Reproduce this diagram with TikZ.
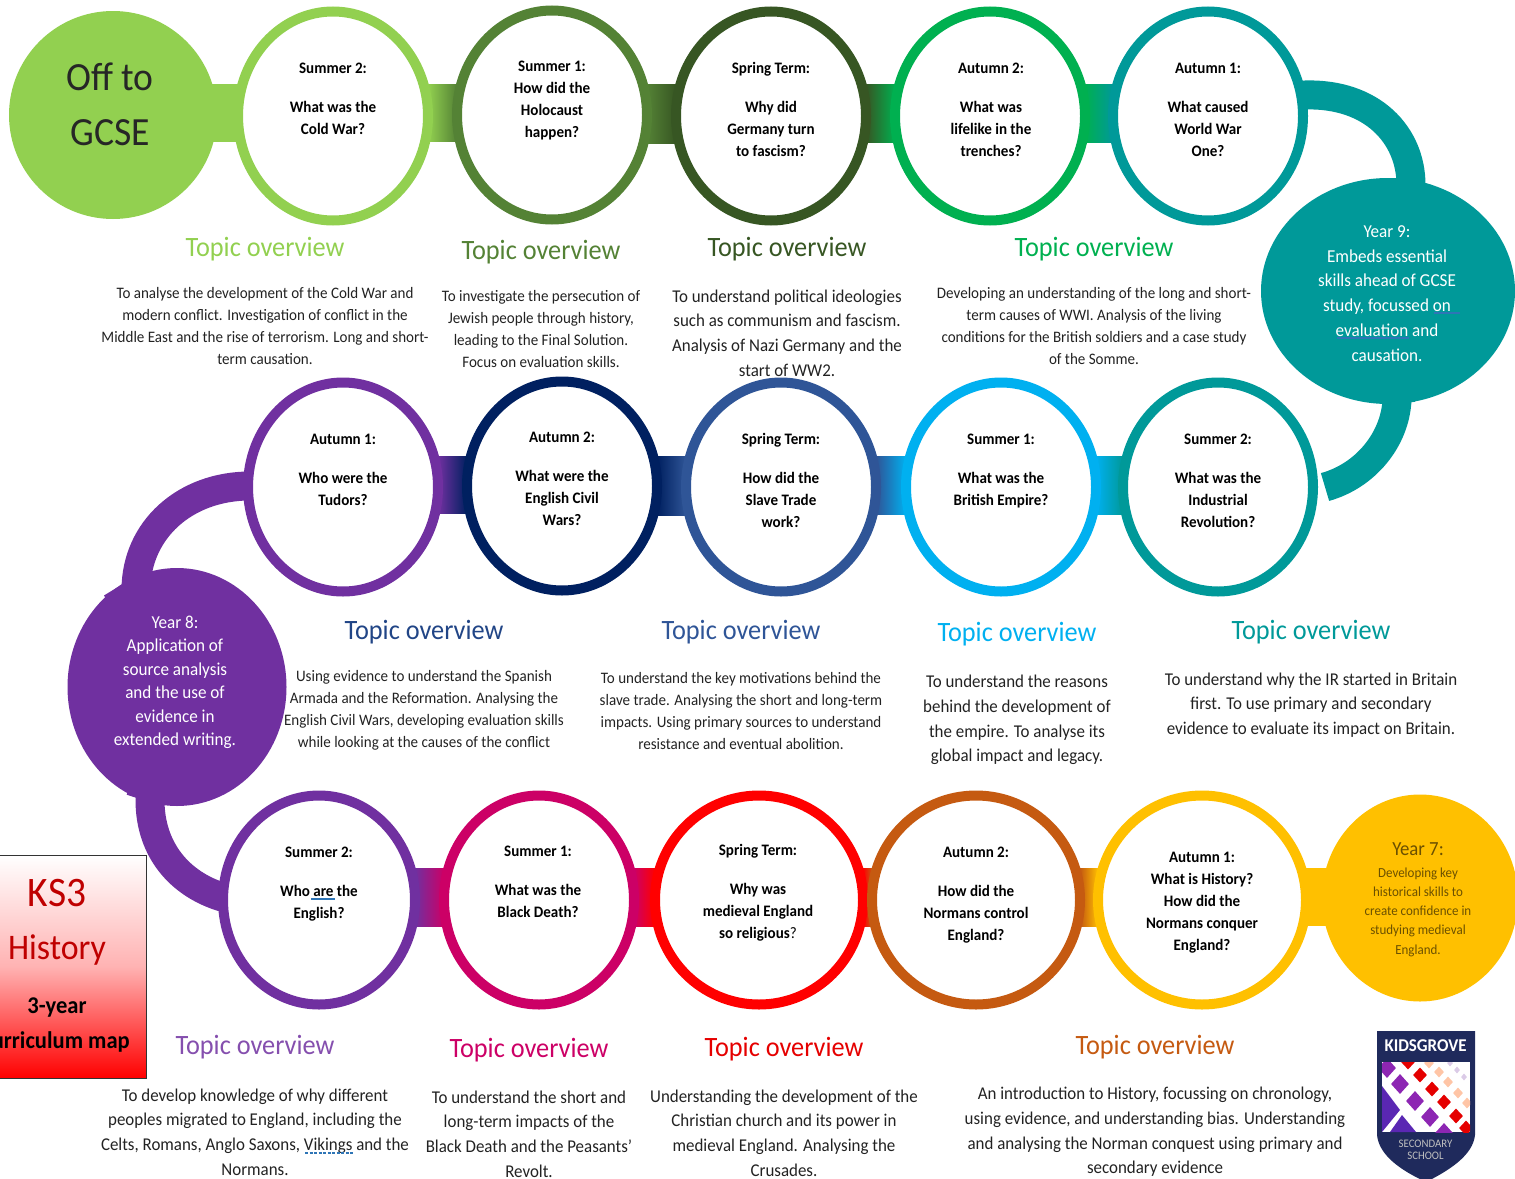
\documentclass[tikz,border=0pt]{standalone}
\usepackage{fontspec}
\setmainfont[FakeStretch=0.94]{Carlito}
\usetikzlibrary{shapes.geometric,calc,backgrounds}
\definecolor{cLime}{HTML}{92D050}
\definecolor{cGreen}{HTML}{548235}
\definecolor{cDark}{HTML}{375623}
\definecolor{cEmer}{HTML}{00B050}
\definecolor{cTeal}{HTML}{009999}
\definecolor{cPurp}{HTML}{7030A0}
\definecolor{cNavy}{HTML}{002060}
\definecolor{cBlue}{HTML}{2F5597}
\definecolor{cSky}{HTML}{00B0F0}
\definecolor{cPink}{HTML}{CC0066}
\definecolor{cRed}{HTML}{FF0000}
\definecolor{cBrown}{HTML}{C55A11}
\definecolor{cGold}{HTML}{FFC000}
\definecolor{cGoldTxt}{HTML}{6B5000}
\definecolor{cCrest}{HTML}{1F2A5C}
\definecolor{cBody}{HTML}{222222}
\definecolor{cSquig}{HTML}{2E75B6}
\tikzset{
  x=1pt,y=-1pt,
  ring/.style={ellipse,draw=#1,fill=white,line width=10pt,outer sep=0pt,inner sep=0pt,minimum width=190pt,minimum height=209pt},
  wide/.style={minimum width=208pt},
  blob/.style={ellipse,fill=#1,outer sep=0pt,inner sep=0pt},
  qtext/.style={align=center,inner sep=0pt,text=black,font=\fontsize{16}{22}\selectfont\bfseries},
  heading/.style={inner sep=0pt,text=#1,font=\fontsize{28}{30}\selectfont},
  descS/.style={align=center,inner sep=0pt,text=cBody,font=\fontsize{16}{22}\selectfont},
  descL/.style={align=center,inner sep=0pt,text=cBody,font=\fontsize{18}{24.6}\selectfont},
  yeartext/.style={align=center,inner sep=0pt,text=white,font=\fontsize{18.2}{24.8}\selectfont},
  bar/.style 2 args={left color=#1,right color=#2,draw=none},
  arcline/.style={draw=#1,line width=29pt,line cap=butt,line join=round},
  dmdP/.style={fill=cPurp!80!magenta,shape=diamond,inner sep=0pt,minimum width=18pt,minimum height=20pt},
  dmdR/.style={fill=red!90!black,shape=diamond,inner sep=0pt,minimum width=14pt,minimum height=15pt},
  dmdK/.style={fill=red!30!orange!35,shape=diamond,inner sep=0pt,minimum width=10pt,minimum height=11pt},
  dmdL/.style={fill=cPurp!25,shape=diamond,inner sep=0pt,minimum width=6pt,minimum height=7pt},
}
% #1,#2 nodes; #3,#4 colours; #5 vertical offset of the bar's top from the left node's centre
\newcommand{\linkbar}[5]{\fill[bar={#3}{#4}] ($(#1.east)+(0,#5)$) rectangle ($(#2.west)+(0,#5+58)$);}
\begin{document}
\begin{tikzpicture}
\useasboundingbox (0,0) rectangle (1515,1178);
\clip (0,0) rectangle (1515,1178);
% ---- hubs
\node[blob=cLime,minimum width=208pt,minimum height=208pt] (gcse) at (113,115) {};
\node[blob=cTeal,minimum width=254pt,minimum height=226pt] (y9) at (1388,291) {};
\node[blob=cPurp,minimum width=219pt,minimum height=238pt] (y8) at (177,687) {};
\node[blob=cGold,minimum width=196pt,minimum height=207pt] (y7) at (1420,898) {};
% ---- row 1 rings
\node[ring=cLime]  (aS2) at (333,116) {};
\node[ring=cGreen] (aS1) at (552,115) {};
\node[ring=cDark]  (aSp) at (771,116) {};
\node[ring=cEmer]  (aA2) at (990,116) {};
\node[ring=cTeal]  (aA1) at (1208,116) {};
% ---- row 2 rings
\node[ring=cPurp]  (bA1) at (343,487) {};
\node[ring=cNavy]  (bA2) at (562,486) {};
\node[ring=cBlue]  (bSp) at (781,487) {};
\node[ring=cSky]   (bS1) at (1001,487) {};
\node[ring=cTeal]  (bS2) at (1218,487) {};
% ---- row 3 rings
\node[ring=cPurp,minimum width=192pt]  (cS2) at (319,900) {};
\node[ring=cPink]  (cS1) at (539,900) {};
\node[ring=cRed,wide]  (cSp) at (759,900) {};
\node[ring=cBrown,wide] (cA2) at (976,900) {};
\node[ring=cGold,wide] (cA1) at (1202,900) {};
% ---- connectors
\begin{pgfonlayer}{background}
\fill[cLime] ($(gcse.east)+(-20,-31)$) rectangle ($(aS2.west)+(0,26)$);
\linkbar{aS2}{aS1}{cLime}{cGreen}{-32}
\linkbar{aS1}{aSp}{cGreen}{cDark}{-31}
\linkbar{aSp}{aA2}{cDark}{cEmer}{-32}
\linkbar{aA2}{aA1}{cEmer}{cTeal}{-32}
\linkbar{bA1}{bA2}{cPurp}{cNavy}{-31}
\linkbar{bA2}{bSp}{cNavy}{cBlue}{-30}
\linkbar{bSp}{bS1}{cBlue}{cSky}{-31}
\linkbar{bS1}{bS2}{cSky}{cTeal}{-31}
\linkbar{cS2}{cS1}{cPurp}{cPink}{-32}
\linkbar{cS1}{cSp}{cPink}{cRed}{-32}
\linkbar{cSp}{cA2}{cRed}{cBrown}{-32}
\linkbar{cA2}{cA1}{cBrown}{cGold}{-32}
\fill[cGold] ($(cA1.east)+(0,-32)$) rectangle ($(y7.west)+(20,28)$);
\draw[arcline=cTeal] ($(aA1)+(0,-21)$) -- (1305,95) .. controls (1372,93) and (1411,135) .. (1411,185) -- (1411,210) -- (y9);
\draw[arcline=cTeal] (y9) -- (1397,370) -- (1397,400) .. controls (1395,440) and (1365,476) .. (1325,487);
\draw[arcline=cPurp] (bA1) -- (250,486) .. controls (185,486) and (136,530) .. (136,590) -- (136,620) -- (y8);
\draw[arcline=cPurp] (y8) -- (150,770) -- (150,800) .. controls (150,850) and (180,884) .. (222,897) -- (cS2);
\end{pgfonlayer}
% ---- hub texts
\node[inner sep=0pt,align=center,font=\fontsize{40}{55}\selectfont,text=black!85] (tGcse) at (110,104) {Off to\\GCSE};
\node[yeartext] (tY9) at (1387,293.5) {Year 9:\\Embeds essential\\skills ahead of GCSE\\study, focussed on\\evaluation and\\causation.};
\node[yeartext,font=\fontsize{18.2}{23.5}\selectfont] (tY8) at (175,682.5) {Year 8:\\Application of\\source analysis\\and the use of\\evidence in\\extended writing.};
\node[inner sep=0pt,text=cGoldTxt,font=\fontsize{20}{20}\selectfont] (tY7a) at (1418,849) {Year 7:};
\node[align=center,inner sep=0pt,text=cGoldTxt,font=\fontsize{13.8}{19.2}\selectfont] (tY7b) at (1418,912) {Developing key\\historical skills to\\create confidence in\\studying medieval\\England.};
% ---- ring questions
\node[qtext] (q1) at (333,99) {Summer 2:\\[17pt]What was the\\Cold War?};
\node[qtext] (q2) at (552,101) {Summer 1:\\How did the\\Holocaust\\happen?};
\node[qtext] (q3) at (771,109.5) {Spring Term:\\[17pt]Why did\\Germany turn\\to fascism?};
\node[qtext] (q4) at (991,110) {Autumn 2:\\[17pt]What was\\lifelike in the\\trenches?};
\node[qtext] (q5) at (1208,110) {Autumn 1:\\[17pt]What caused\\World War\\One?};
\node[qtext] (q6) at (343,470) {Autumn 1:\\[17pt]Who were the\\Tudors?};
\node[qtext] (q7) at (562,479) {Autumn 2:\\[17pt]What were the\\English Civil\\Wars?};
\node[qtext] (q8) at (781,480.5) {Spring Term:\\[17pt]How did the\\Slave Trade\\work?};
\node[qtext] (q9) at (1001,471) {Summer 1:\\[17pt]What was the\\British Empire?};
\node[qtext] (q10) at (1218,481) {Summer 2:\\[17pt]What was the\\Industrial\\Revolution?};
\node[qtext] (q11) at (319,884) {Summer 2:\\[17pt]Who are the\\English?};
\node[qtext] (q12) at (538,881.5) {Summer 1:\\[17pt]What was the\\Black Death?};
\node[qtext] (q13) at (758,892.5) {Spring Term:\\[17pt]Why was\\medieval England\\so religious{\mdseries ?}};
\node[qtext] (q14) at (976,895) {Autumn 2:\\[17pt]How did the\\Normans control\\England?};
\node[qtext] (q15) at (1202,903) {Autumn 1:\\What is History?\\How did the\\Normans conquer\\England?};
% ---- headings
\node[heading=cLime]  (h1) at (265,249) {Topic overview};
\node[heading=cGreen] (h2) at (541,252) {Topic overview};
\node[heading=cDark]  (h3) at (787,249) {Topic overview};
\node[heading=cEmer]  (h4) at (1094,249) {Topic overview};
\node[heading=cBlue!70!cNavy] (h5) at (424,632) {Topic overview};
\node[heading=cBlue]  (h6) at (741,632) {Topic overview};
\node[heading=cSky]   (h7) at (1017,634) {Topic overview};
\node[heading=cTeal]  (h8) at (1311,632) {Topic overview};
\node[heading=cPurp!85!white] (h9) at (255,1047) {Topic overview};
\node[heading=cPink]  (h10) at (529,1050) {Topic overview};
\node[heading=red!90!black] (h11) at (784,1049) {Topic overview};
\node[heading=cBrown] (h12) at (1155,1047) {Topic overview};
% ---- descriptions
\node[descS] (d1) at (265,326) {To analyse the development of the Cold War and\\modern conflict. Investigation of conflict in the\\Middle East and the rise of terrorism. Long and short-\\term causation.};
\node[descS] (d2) at (541,329) {To investigate the persecution of\\Jewish people through history,\\leading to the Final Solution.\\Focus on evaluation skills.};
\node[descL] (d3) at (787,333) {To understand political ideologies\\such as communism and fascism.\\Analysis of Nazi Germany and the\\start of WW2.};
\node[descS] (d4) at (1094,326) {Developing an understanding of the long and short-\\term causes of WWI. Analysis of the living\\conditions for the British soldiers and a case study\\of the Somme.};
\node[descS] (d5) at (424,710.5) {Using evidence to understand the Spanish\\Armada and the Reformation. Analysing the\\English Civil Wars, developing evaluation skills\\while looking at the causes of the conflict};
\node[descS] (d6) at (741,710.5) {To understand the key motivations behind the\\slave trade. Analysing the short and long-term\\impacts. Using primary sources to understand\\resistance and eventual abolition.};
\node[descL] (d7) at (1017,720) {To understand the reasons\\behind the development of\\the empire. To analyse its\\global impact and legacy.};
\node[descL] (d8) at (1311,705) {To understand why the IR started in Britain\\first. To use primary and secondary\\evidence to evaluate its impact on Britain.};
\node[descL] (d9) at (255,1132) {To develop knowledge of why different\\peoples migrated to England, including the\\Celts, Romans, Anglo Saxons, Vikings and the\\Normans.};
\node[descL] (d10) at (529,1134) {To understand the short and\\long-term impacts of the\\Black Death and the Peasants’\\Revolt.};
\node[descL] (d11) at (784,1133) {Understanding the development of the\\Christian church and its power in\\medieval England. Analysing the\\Crusades.};
\node[descL] (d12) at (1155,1132) {An introduction to History, focussing on chronology,\\using evidence, and understanding bias.  Understanding\\and analysing the Norman conquest using primary and\\secondary evidence};
% ---- proofing marks
\draw[cSquig,line width=1.6pt] (1434,313) -- (1460,313);
\draw[cSquig,line width=1.6pt] (1337,338) -- (1409,338);
\draw[cSquig,line width=1.4pt] (311,899) -- (335,899);
\draw[cSquig,line width=1.4pt,dashed,dash pattern=on 3pt off 1.5pt] (305,1153) -- (354,1153);
% ---- KS3 box
\node[draw=black!80,line width=1pt,inner sep=0pt,minimum width=150pt,minimum height=223pt,
  top color=white,bottom color=red,middle color=white!50!red!60,shading angle=0] (ks) at (71,966.5) {};
\node[inner sep=0pt,text=cRed!75!black,font=\fontsize{42}{44}\selectfont] (ks3) at (57,893) {KS3};
\node[inner sep=0pt,text=cRed!75!black,font=\fontsize{36}{38}\selectfont] (ksH) at (57,950) {History};
\node[inner sep=0pt,text=black,font=\fontsize{24}{26}\selectfont\bfseries] (ksY) at (57,1008) {3-year};
\node[inner sep=0pt,text=black,font=\fontsize{24}{26}\selectfont\bfseries,anchor=east] (ksC) at (130,1042) {curriculum map};
% ---- crest
\fill[cCrest] (1377,1031) -- (1475,1031) -- (1475,1135) .. controls (1473,1155) and (1450,1170) .. (1426,1182) .. controls (1400,1170) and (1379,1155) .. (1377,1135) -- cycle;
\node[inner sep=0pt,text=white,font=\fontsize{18}{18}\selectfont\bfseries] (logo1) at (1425.5,1046) {KIDSGROVE};
\node[align=center,inner sep=0pt,text=black!25,font=\fontsize{11.5}{11.5}\selectfont] (logo2) at (1425.5,1150) {SECONDARY\\SCHOOL};
\begin{scope}
\clip (1382,1062) rectangle (1470,1132);
\fill[white] (1382,1062) rectangle (1470,1132);
\fill[cPurp!80!blue] (1382,1086) -- (1400,1110) -- (1382,1132) -- cycle;
\fill[cPurp!80!blue] (1402,1115) -- (1416,1132) -- (1390,1132) -- cycle;
\foreach \px/\py in {1387/1068,1400/1084,1415/1101,1430/1117,1444/1133} \node[dmdP] at (\px,\py) {};
\foreach \px/\py in {1408/1062,1420/1075,1432/1089,1444/1102,1456/1116,1466/1128} \node[dmdR] at (\px,\py) {};
\foreach \px/\py in {1429/1063,1439/1072,1448/1082,1458/1093,1467/1103} \node[dmdK] at (\px,\py) {};
\foreach \px/\py in {1450/1063,1457/1070,1464/1077} \node[dmdL] at (\px,\py) {};
\end{scope}
\end{tikzpicture}
\end{document}
